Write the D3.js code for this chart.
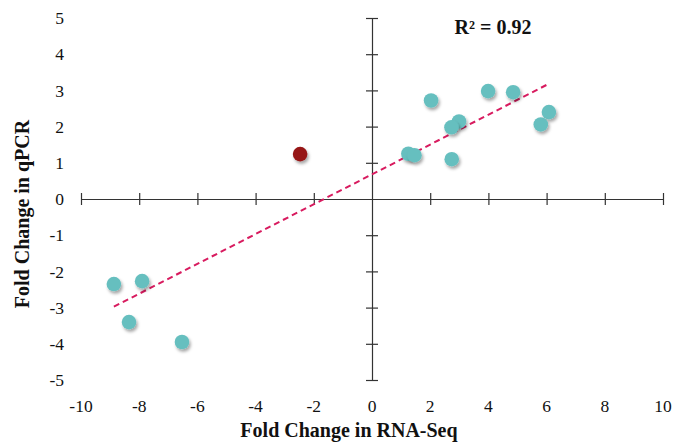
<!DOCTYPE html>
<html>
<head>
<meta charset="utf-8">
<script src="https://cdn.jsdelivr.net/npm/d3@7"></script>
<style>
  html, body { margin: 0; padding: 0; background: #fff; }
  svg { display: block; }
</style>
</head>
<body>
<svg id="chart" width="674" height="443"></svg>
<script>
// Fold change pairs (RNA-Seq vs qPCR)
const rnaSeq = [-8.87, -7.9, -8.35, -6.53, 2.03, 3.99, 4.85, 6.08, 5.8, 2.99, 2.73, 1.25, 1.46, 2.74];
const qpcr   = [-2.35, -2.27, -3.4, -3.95, 2.72, 2.98, 2.95, 2.4, 2.06, 2.14, 1.98, 1.25, 1.21, 1.1];
// Outlier gene drawn in red
const outlierX = [-2.47];
const outlierY = [1.24];
// Linear fit
const fitSlope = 0.412;
const fitIntercept = 0.68;
const fitRange = [-8.87, 6.08];
const rSquared = "0.92";
const xTicks = [-10, -8, -6, -4, -2, 0, 2, 4, 6, 8, 10];
const yTicks = [-5, -4, -3, -2, -1, 0, 1, 2, 3, 4, 5];

const svg = d3.select("#chart");
const x = d3.scaleLinear().domain([-10, 10]).range([81, 663]);
const y = d3.scaleLinear().domain([-5, 5]).range([380, 18]);

const defs = svg.append("defs");
const f = defs.append("filter").attr("id", "shadow")
  .attr("x", "-50%").attr("y", "-50%").attr("width", "200%").attr("height", "200%");
f.append("feDropShadow").attr("dx", 1.5).attr("dy", 2.5).attr("stdDeviation", 1.6)
  .attr("flood-color", "#000").attr("flood-opacity", 0.35);

const serif = "'Liberation Serif', 'Times New Roman', serif";
const axisColor = "#333";

// X axis through y = 0
const xAxis = svg.append("g").attr("transform", `translate(0,${y(0)})`)
  .call(d3.axisBottom(x).tickValues(xTicks).tickSizeInner(0).tickSizeOuter(0).tickFormat(""));
xAxis.select(".domain").attr("stroke", axisColor).attr("stroke-width", 1.2);
xAxis.selectAll(".tick line").remove();
xAxis.selectAll(".tick").filter(d => d !== 0).append("line")
  .attr("y1", -6).attr("y2", 6).attr("stroke", axisColor).attr("stroke-width", 1.2);

// Y axis through x = 0
const yAxis = svg.append("g").attr("transform", `translate(${x(0)},0)`)
  .call(d3.axisLeft(y).tickValues(yTicks).tickSizeInner(0).tickSizeOuter(0).tickFormat(""));
yAxis.select(".domain").attr("stroke", axisColor).attr("stroke-width", 1.2);
yAxis.selectAll(".tick line").remove();
yAxis.selectAll(".tick").filter(d => d !== 0).append("line")
  .attr("x1", -6).attr("x2", 6).attr("stroke", axisColor).attr("stroke-width", 1.2);

// Tick labels along the chart's left and bottom edges
svg.append("g").selectAll("text").data(yTicks).join("text")
  .attr("x", 64).attr("y", d => y(d)).attr("dy", "0.35em")
  .attr("text-anchor", "end")
  .style("font-family", serif).style("font-size", "17.5px").attr("fill", "#111")
  .text(d => d);
svg.append("g").selectAll("text").data(xTicks).join("text")
  .attr("x", d => x(d)).attr("y", 412)
  .attr("text-anchor", "middle")
  .style("font-family", serif).style("font-size", "17.5px").attr("fill", "#111")
  .text(d => d);

// Axis titles
svg.append("text").attr("x", 349).attr("y", 437).attr("text-anchor", "middle")
  .style("font-family", serif).style("font-size", "20px").style("font-weight", "bold").attr("fill", "#111")
  .text("Fold Change in RNA-Seq");
svg.append("text").attr("transform", "translate(29,214) rotate(-90)").attr("text-anchor", "middle")
  .style("font-family", serif).style("font-size", "20px").style("font-weight", "bold").attr("fill", "#111")
  .text("Fold Change in qPCR");

// Trend line
svg.append("line")
  .attr("x1", x(fitRange[0])).attr("y1", y(fitSlope * fitRange[0] + fitIntercept))
  .attr("x2", x(fitRange[1])).attr("y2", y(fitSlope * fitRange[1] + fitIntercept))
  .attr("stroke", "#d81b5f").attr("stroke-width", 2).attr("stroke-dasharray", "6,4");

// Points
const pts = rnaSeq.map((v, i) => ({ x: v, y: qpcr[i] }));
svg.append("g").selectAll("circle").data(pts).join("circle")
  .attr("cx", d => x(d.x)).attr("cy", d => y(d.y)).attr("r", 7.3)
  .attr("fill", "#66bfbf").attr("filter", "url(#shadow)");
const outl = outlierX.map((v, i) => ({ x: v, y: outlierY[i] }));
svg.append("g").selectAll("circle").data(outl).join("circle")
  .attr("cx", d => x(d.x)).attr("cy", d => y(d.y)).attr("r", 7.3)
  .attr("fill", "#961414").attr("filter", "url(#shadow)");

// R² annotation
svg.append("text").attr("x", 493).attr("y", 34).attr("text-anchor", "middle")
  .style("font-family", serif).style("font-size", "20px").style("font-weight", "bold").attr("fill", "#111")
  .text(`R² = ${rSquared}`);
</script>
</body>
</html>
